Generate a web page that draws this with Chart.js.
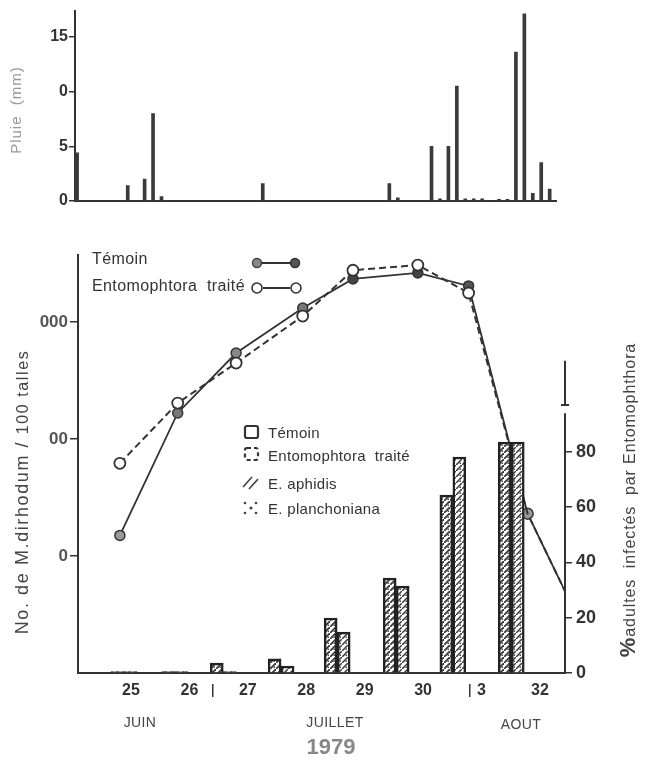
<!DOCTYPE html>
<html><head><meta charset="utf-8">
<script src="https://cdn.jsdelivr.net/npm/chart.js@4"></script>
<style>
html,body{margin:0;padding:0;background:#fff;width:645px;height:762px;overflow:hidden;font-family:"Liberation Sans",Arial,sans-serif;}
#wrap{position:relative;width:645px;height:762px;}
canvas{position:absolute;left:0;}
.t{position:absolute;white-space:nowrap;line-height:1;color:#333;transform:translate(0,-50%);}
.r{position:absolute;white-space:nowrap;line-height:1;transform:translate(-50%,-50%) rotate(-90deg);}
.c{position:absolute;white-space:nowrap;line-height:1;transform:translate(-50%,-50%);}
svg{position:absolute;left:0;top:0;}
</style></head><body>
<div id="wrap">
<canvas id="rain" width="645" height="215" style="top:0"></canvas>
<canvas id="main" width="645" height="532" style="top:231px"></canvas>
<svg width="645" height="762">
  <line x1="261" y1="263" x2="291" y2="263" stroke="#333" stroke-width="2"/>
  <circle cx="257" cy="263" r="4.5" fill="#888" stroke="#444" stroke-width="1.5"/>
  <circle cx="295" cy="263" r="4.5" fill="#555" stroke="#333" stroke-width="1.5"/>
  <line x1="263" y1="288" x2="290" y2="288" stroke="#333" stroke-width="2"/>
  <circle cx="257" cy="288" r="5" fill="#fff" stroke="#333" stroke-width="1.6"/>
  <circle cx="296" cy="288" r="5" fill="#fff" stroke="#333" stroke-width="1.6"/>
  <rect x="245" y="426" width="13" height="12" rx="2" fill="#fff" stroke="#333" stroke-width="2.2"/>
  <rect x="245" y="448" width="13" height="12" rx="2" fill="#fff" stroke="#333" stroke-width="2.2" stroke-dasharray="4,3"/>
  <line x1="243" y1="487" x2="252" y2="477" stroke="#444" stroke-width="1.6"/>
  <line x1="249" y1="489" x2="258" y2="479" stroke="#444" stroke-width="1.6"/>
  <circle cx="245" cy="503" r="1.3" fill="#444"/><circle cx="256" cy="503" r="1.3" fill="#444"/>
  <circle cx="251" cy="508" r="1.6" fill="#444"/>
  <circle cx="245" cy="513" r="1.3" fill="#444"/><circle cx="256" cy="513" r="1.3" fill="#444"/>
</svg>
<div class="r" style="left:15px;top:110px;font-size:15px;letter-spacing:1px;color:#999;">Pluie&nbsp; (mm)</div>
<div class="t" style="left:92px;top:259px;font-size:16px;letter-spacing:0.4px;">Témoin</div>
<div class="t" style="left:92px;top:286px;font-size:16px;letter-spacing:0.4px;">Entomophtora&nbsp; traité</div>
<div class="t" style="left:268px;top:432px;font-size:15px;letter-spacing:0.3px;">Témoin</div>
<div class="t" style="left:268px;top:455px;font-size:15px;letter-spacing:0.3px;">Entomophtora&nbsp; traité</div>
<div class="t" style="left:268px;top:483px;font-size:15px;letter-spacing:0.3px;">E. aphidis</div>
<div class="t" style="left:268px;top:508px;font-size:15px;letter-spacing:0.3px;">E. planchoniana</div>
<div class="r" style="left:22px;top:492px;font-size:18px;letter-spacing:1.6px;color:#444;">No. de M.dirhodum / <span style="font-size:16px">100 talles</span></div>
<div class="r" style="left:628px;top:500px;font-size:16px;letter-spacing:0.9px;color:#444;"><b style="font-size:22px">%</b>adultes&nbsp; infectés&nbsp; par Entomophthora</div>
<div class="c" style="left:140px;top:722px;font-size:14px;letter-spacing:0.4px;color:#444;">JUIN</div>
<div class="c" style="left:335px;top:722px;font-size:14px;letter-spacing:0.4px;color:#444;">JUILLET</div>
<div class="c" style="left:521px;top:724px;font-size:14px;letter-spacing:0.4px;color:#444;">AOUT</div>
<div class="c" style="left:331px;top:747px;font-size:22px;font-weight:bold;color:#888;">1979</div>
</div>
<script>
// ---- Rainfall (top panel) ----
const rainDays = [0,6,8,9,10,22,37,38,42,43,44,45,46,47,48,50,51,52,53,54,55,56];
const rainMm   = [4.4,1.4,2.0,8.0,0.4,1.6,1.6,0.3,5.0,0.2,5.0,10.5,0.2,0.2,0.2,0.15,0.15,13.6,17.1,0.7,3.5,1.1];
const rainTicks = [0,5,10,15];
const rainTickLabels = ['0','5','0','15'];

// ---- Aphid counts (log, left axis) ----
const sampleWeeks  = [24.81,25.80,26.80,27.94,28.80,29.91,30.78,31.79,32.43];
const temoinCounts = [15,167,543,1318,2335,2630,2035,23,5];
const entoCounts   = [62,203,446,1124,2770,3070,1770,23,5];
const countTicks = [10,100,1000];
const countTickLabels = ['0','00','000'];

// ---- % infected adults (bars, right axis) ----
const barWeeks = [24.88,25.75,26.58,27.57,28.53,29.54,30.51,31.51];
const temoinInfected = [0.5,0.5,3.6,5.1,19.9,34.4,64.4,83.6];
const entoInfected   = [0.5,0.5,0.5,2.5,14.8,31.5,78.2,83.6];
const pctTicks = [0,20,40,60,80];

// ---- Week axis ----
const weekTicks  = [25,26,27,28,29,30,31,32];
const weekLabels = ['25','26','27','28','29','30','3','32'];
const monthBreaks = [26.4,30.8];

const FF = '"Liberation Sans", Arial, sans-serif';
Chart.defaults.font.family = FF;

function pattern(dense){
  const c=document.createElement('canvas'); c.width=6; c.height=6;
  const g=c.getContext('2d');
  g.fillStyle='#fff'; g.fillRect(0,0,6,6);
  g.strokeStyle='#3a3a3a'; g.lineWidth=dense?1.8:1.5;
  g.beginPath(); g.moveTo(0,6); g.lineTo(6,0); g.stroke();
  g.fillStyle='#444'; g.fillRect(3.5,3.5,1.5,1.5);
  return g.createPattern(c,'repeat');
}
const mctx = document.getElementById('main').getContext('2d');

new Chart(document.getElementById('rain'), {
  type:'bar',
  data:{datasets:[{data: rainDays.map((d,i)=>({x:d,y:rainMm[i]})), backgroundColor:'#3a3a3a', barThickness:3, borderWidth:0}]},
  options:{
    responsive:false, animation:false, events:[],
    plugins:{legend:{display:false}, tooltip:{enabled:false}},
    layout:{padding:{top:10,right:89,bottom:14,left:0}},
    scales:{
      x:{type:'linear', min:-0.25, max:56.75, offset:false, grid:{display:false,drawTicks:false}, ticks:{display:false},
         border:{display:true,color:'#333',width:2}, afterFit(s){s.height=0;}},
      y:{min:0, max:17.4, afterFit(s){s.width=75;},
         afterBuildTicks(s){s.ticks=rainTicks.map(v=>({value:v}));},
         ticks:{callback:(v)=>rainTickLabels[rainTicks.indexOf(v)], color:'#333', padding:1, font:{size:16,weight:'bold'}},
         grid:{drawOnChartArea:false, tickLength:6, color:'#333', lineWidth:1.5},
         border:{color:'#333', width:2}}
    }
  }
});

const decor = {
  id:'decor',
  afterDraw(chart){
    const ctx=chart.ctx, y2=chart.scales.y2, xs=chart.scales.x;
    const x=chart.chartArea.right;
    ctx.save();
    ctx.strokeStyle='#333'; ctx.lineWidth=2;
    ctx.beginPath();
    ctx.moveTo(x, y2.getPixelForValue(0)); ctx.lineTo(x, y2.getPixelForValue(94));
    ctx.moveTo(x, y2.getPixelForValue(97)); ctx.lineTo(x, y2.getPixelForValue(113));
    ctx.moveTo(x-4, y2.getPixelForValue(97)); ctx.lineTo(x+4, y2.getPixelForValue(97));
    ctx.stroke();
    ctx.lineWidth=1.5;
    monthBreaks.forEach(w=>{
      const px=xs.getPixelForValue(w);
      ctx.beginPath(); ctx.moveTo(px, chart.chartArea.bottom+11); ctx.lineTo(px, chart.chartArea.bottom+24); ctx.stroke();
    });
    ctx.restore();
  }
};

new Chart(mctx, {
  type:'bar',
  data:{datasets:[
    {type:'line', label:'Témoin', yAxisID:'y', order:2,
     data: sampleWeeks.map((x,i)=>({x, y:temoinCounts[i]})),
     borderColor:'#333', borderWidth:1.8, tension:0,
     pointRadius:[5,5,5,5,5,5,5,5.5,0], pointBackgroundColor:['#999','#777','#888','#777','#444','#444','#555','#999','#999'],
     pointBorderColor:'#333', pointBorderWidth:1.5},
    {type:'line', label:'Entomophtora traité', yAxisID:'y', order:1,
     data: sampleWeeks.map((x,i)=>({x, y:entoCounts[i]})),
     borderColor:'#333', borderWidth:2, borderDash:[7,4], tension:0,
     pointRadius:[5.5,5.5,5.5,5.5,5.5,5.5,5.5,0,0], pointBackgroundColor:'#fff',
     pointBorderColor:'#333', pointBorderWidth:1.8},
    {label:'Témoin %', yAxisID:'y2', order:0,
     data: barWeeks.map((x,i)=>({x, y:temoinInfected[i]})),
     backgroundColor: pattern(true), borderColor:'#222', borderWidth:2.5, barThickness:13, borderSkipped:'bottom'},
    {label:'Entomophtora traité %', yAxisID:'y2', order:0,
     data: barWeeks.map((x,i)=>({x, y:entoInfected[i]})),
     backgroundColor: pattern(false), borderColor:'#222', borderWidth:2.5, barThickness:13, borderSkipped:'bottom'}
  ]},
  options:{
    responsive:false, animation:false, events:[],
    plugins:{legend:{display:false}, tooltip:{enabled:false}},
    layout:{padding:{top:24,right:0,bottom:0,left:0}},
    scales:{
      x:{type:'linear', min:24.093, max:32.43, offset:false,
         afterFit(s){s.height=90;},
         afterBuildTicks(s){s.ticks=weekTicks.map(v=>({value:v}));},
         ticks:{callback:(v)=>weekLabels[weekTicks.indexOf(v)], color:'#333', padding:8, maxRotation:0, font:{size:16,weight:'bold'}},
         grid:{display:false, drawTicks:false},
         border:{display:true, color:'#333', width:2}},
      y:{type:'logarithmic', position:'left', min:1, max:3740,
         afterFit(s){s.width=78;},
         afterBuildTicks(s){s.ticks=countTicks.map(v=>({value:v}));},
         ticks:{callback:(v)=>countTickLabels[countTicks.indexOf(v)], color:'#555', padding:2, font:{size:17,weight:'bold'}},
         grid:{drawOnChartArea:false, tickLength:8, color:'#333', lineWidth:1.5},
         border:{color:'#333', width:2}},
      y2:{type:'linear', position:'right', min:0, max:151.3,
         afterFit(s){s.width=80;},
         afterBuildTicks(s){s.ticks=pctTicks.map(v=>({value:v}));},
         ticks:{color:'#333', padding:4, font:{size:18,weight:'bold'}},
         grid:{drawOnChartArea:false, tickLength:7, color:'#333', lineWidth:1.5},
         border:{display:false}}
    }
  },
  plugins:[decor]
});
</script>
</body></html>
